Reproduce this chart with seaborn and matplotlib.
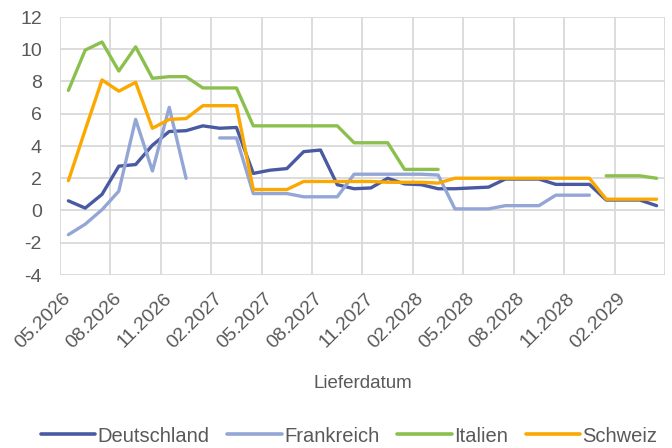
import numpy as np
import pandas as pd
import matplotlib
matplotlib.use("Agg")
import matplotlib.pyplot as plt
import seaborn as sns
from matplotlib.lines import Line2D

nan = np.nan

months = pd.period_range("2026-05", periods=36, freq="M")
month_labels = [p.strftime("%m.%Y") for p in months]

deutschland = [0.6, 0.15, 1.0, 2.75, 2.85, 4.05, 4.9, 4.95, 5.25, 5.1, 5.15, 2.3,
               2.5, 2.6, 3.65, 3.75, 1.6, 1.35, 1.4, 2.0, 1.65, 1.6, 1.35, 1.35,
               1.4, 1.45, 1.95, 1.95, 1.95, 1.62, 1.62, 1.62, 0.65, 0.65, 0.65, 0.3]
frankreich = [-1.5, -0.85, 0.05, 1.2, 5.65, 2.45, 6.4, 2.0, nan, 4.5, 4.5, 1.05,
              1.05, 1.05, 0.85, 0.85, 0.85, 2.25, 2.25, 2.25, 2.25, 2.25, 2.2, 0.1,
              0.1, 0.1, 0.3, 0.3, 0.3, 0.95, 0.95, 0.95, nan, nan, nan, nan]
italien = [7.45, 9.95, 10.45, 8.65, 10.15, 8.2, 8.3, 8.3, 7.6, 7.6, 7.6, 5.25,
           5.25, 5.25, 5.25, 5.25, 5.25, 4.2, 4.2, 4.2, 2.55, 2.55, 2.55, nan,
           nan, nan, nan, nan, nan, nan, nan, nan, 2.15, 2.15, 2.15, 2.0]
schweiz = [1.85, 5.0, 8.1, 7.4, 7.95, 5.1, 5.65, 5.7, 6.5, 6.5, 6.5, 1.3,
           1.3, 1.3, 1.8, 1.8, 1.8, 1.8, 1.8, 1.75, 1.75, 1.75, 1.7, 2.0,
           2.0, 2.0, 2.0, 2.0, 2.0, 2.0, 2.0, 2.0, 0.7, 0.7, 0.7, 0.7]

series = {"Deutschland": deutschland, "Frankreich": frankreich,
          "Italien": italien, "Schweiz": schweiz}
colors = {"Deutschland": "#4a5aa2", "Frankreich": "#93a6d6",
          "Italien": "#8cc04e", "Schweiz": "#fba800"}

rows = []
for name, vals in series.items():
    seg = 0
    prev_nan = True
    for i, v in enumerate(vals):
        if np.isnan(v):
            prev_nan = True
            continue
        if prev_nan:
            seg += 1
            prev_nan = False
        rows.append({"idx": i, "value": v, "Land": name, "seg": f"{name}_{seg}"})
df = pd.DataFrame(rows)

sns.set_style("white")
plt.rcParams["font.family"] = ["Liberation Sans", "DejaVu Sans"]
plt.rcParams["axes.unicode_minus"] = False
txt = "#595959"

fig = plt.figure(figsize=(6.72, 4.48), dpi=100)
ax = fig.add_axes([60/672, 1-275/448, 605/672, 258/448])

sns.lineplot(data=df, x="idx", y="value", hue="Land", units="seg", estimator=None,
             palette=colors, linewidth=2.4, ax=ax, legend=False, zorder=3)

ax.set_xlim(-0.5, 35.5)
ax.set_ylim(-4, 12)
ax.set_yticks(np.arange(-4, 13, 2))
ax.set_xticks(np.arange(0, 36, 3))
ax.set_xticklabels([month_labels[i] for i in range(0, 36, 3)], rotation=45,
                   ha="right", va="center", rotation_mode="anchor")
ax.set_xticks(np.arange(-0.5, 36, 3), minor=True)
ax.grid(False)
ax.grid(True, axis="y", which="major", color="#d9d9d9", linewidth=1.3)
ax.grid(True, axis="x", which="minor", color="#d9d9d9", linewidth=1.3)
for s in ax.spines.values():
    s.set_visible(False)
ax.tick_params(axis="both", which="both", length=0, labelsize=14, colors=txt)
ax.tick_params(axis="x", pad=15)
ax.tick_params(axis="y", pad=13)
ax.set_xlabel("Lieferdatum", fontsize=13.5, color=txt, labelpad=17)
ax.set_ylabel("")

handles = [Line2D([0], [0], color=colors[n], linewidth=2.6) for n in series]
fig.legend(handles, list(series.keys()), loc="center", bbox_to_anchor=(349/672, 1-436/448),
           ncol=4, frameon=False, fontsize=14.5, handlelength=2.7, handletextpad=0.1,
           columnspacing=0.9, labelcolor=txt)

fig.savefig("out.png", dpi=100)
